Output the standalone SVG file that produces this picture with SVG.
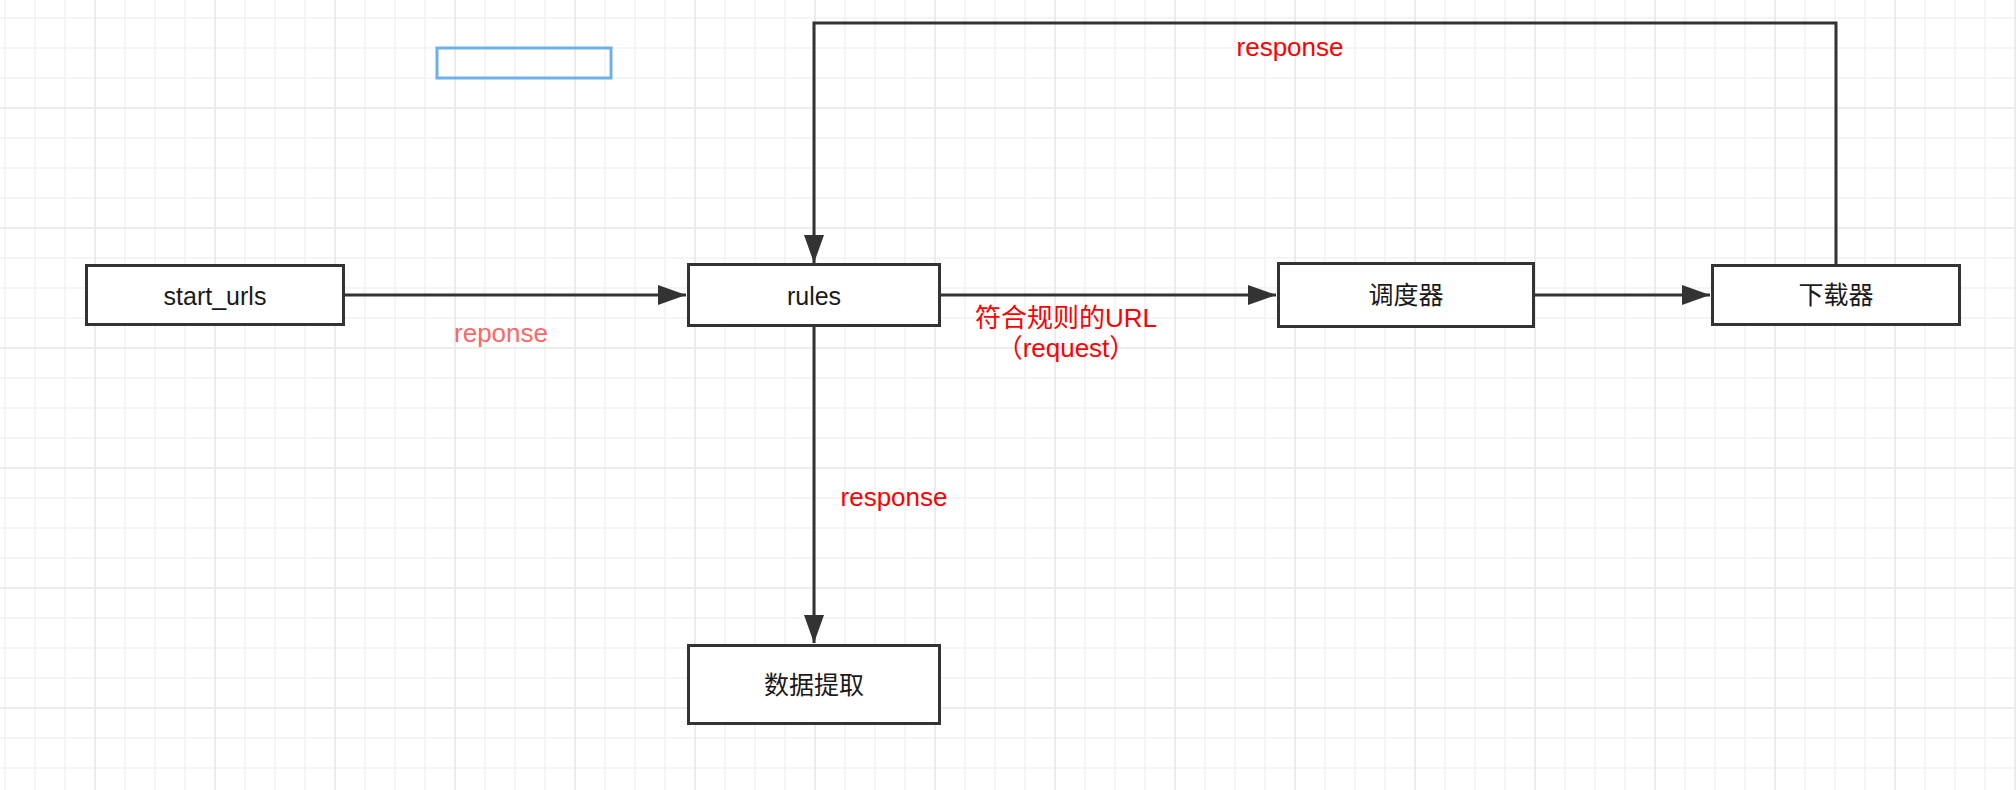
<svg xmlns="http://www.w3.org/2000/svg" width="2016" height="790" viewBox="0 0 2016 790">
<style>
.minor{stroke:#f2f2f2;stroke-width:1.5;fill:none}
.major{stroke:#e6e6e6;stroke-width:1.5;fill:none}
.box{fill:#ffffff;stroke:#333333;stroke-width:3}
.lbl{font-family:"Liberation Sans","Noto Sans CJK SC",sans-serif;font-size:25px;fill:#1a1a1a;text-anchor:middle}
.red{font-family:"Liberation Sans","Noto Sans CJK SC",sans-serif;font-size:26px;fill:#ff0000;text-anchor:middle}
.conn{stroke:#333333;stroke-width:3;fill:none}
</style>
<defs>
<marker id="arr" markerUnits="userSpaceOnUse" markerWidth="28" markerHeight="20" refX="28" refY="10" orient="auto">
<path d="M0 0L28 10L0 20Z" fill="#333333"/>
</marker>
</defs>
<rect width="2016" height="790" fill="#ffffff"/>
<g id="grid">
<path class="minor" d="M5 0V790M35 0V790M65 0V790M125 0V790M155 0V790M185 0V790M245 0V790M275 0V790M305 0V790M365 0V790M395 0V790M425 0V790M485 0V790M515 0V790M545 0V790M605 0V790M635 0V790M665 0V790M725 0V790M755 0V790M785 0V790M845 0V790M875 0V790M905 0V790M965 0V790M995 0V790M1025 0V790M1085 0V790M1115 0V790M1145 0V790M1205 0V790M1235 0V790M1265 0V790M1325 0V790M1355 0V790M1385 0V790M1445 0V790M1475 0V790M1505 0V790M1565 0V790M1595 0V790M1625 0V790M1685 0V790M1715 0V790M1745 0V790M1805 0V790M1835 0V790M1865 0V790M1925 0V790M1955 0V790M1985 0V790M0 18H2016M0 48H2016M0 78H2016M0 138H2016M0 168H2016M0 198H2016M0 258H2016M0 288H2016M0 318H2016M0 378H2016M0 408H2016M0 438H2016M0 498H2016M0 528H2016M0 558H2016M0 618H2016M0 648H2016M0 678H2016M0 738H2016M0 768H2016"/>
<path class="major" d="M95 0V790M215 0V790M335 0V790M455 0V790M575 0V790M695 0V790M815 0V790M935 0V790M1055 0V790M1175 0V790M1295 0V790M1415 0V790M1535 0V790M1655 0V790M1775 0V790M1895 0V790M2015 0V790M0 108H2016M0 228H2016M0 348H2016M0 468H2016M0 588H2016M0 708H2016"/>
</g>
<g id="selection">
<rect x="437" y="48" width="174" height="30" fill="none" stroke="#6eb0e8" stroke-width="3"/>
</g>
<g id="connectors">
<path class="conn" d="M345 295H686" marker-end="url(#arr)"/>
<path class="conn" d="M941 295H1276" marker-end="url(#arr)"/>
<path class="conn" d="M1535 295H1710" marker-end="url(#arr)"/>
<path class="conn" d="M1836 264V23H814V263" marker-end="url(#arr)"/>
<path class="conn" d="M814 326V643" marker-end="url(#arr)"/>
<text class="red" x="1290" y="56">response</text>
<text class="red" x="501" y="342" fill="#ff6666" style="fill:#ff6666">reponse</text>
<text class="red" x="1066" y="327">符合规则的URL</text>
<text class="red" x="1066" y="357">（request）</text>
<text class="red" x="894" y="506">response</text>
</g>
<g id="start_urls">
<rect class="box" x="86.5" y="265.5" width="257" height="59"/>
<text class="lbl" x="215" y="305">start_urls</text>
</g>
<g id="rules">
<rect class="box" x="688.5" y="264.5" width="251" height="61"/>
<text class="lbl" x="814" y="305">rules</text>
</g>
<g id="scheduler">
<rect class="box" x="1278.5" y="263.5" width="255" height="63"/>
<text class="lbl" x="1406" y="304">调度器</text>
</g>
<g id="downloader">
<rect class="box" x="1712.5" y="265.5" width="247" height="59"/>
<text class="lbl" x="1836" y="304">下载器</text>
</g>
<g id="extract">
<rect class="box" x="688.5" y="645.5" width="251" height="78"/>
<text class="lbl" x="814" y="694">数据提取</text>
</g>
</svg>
